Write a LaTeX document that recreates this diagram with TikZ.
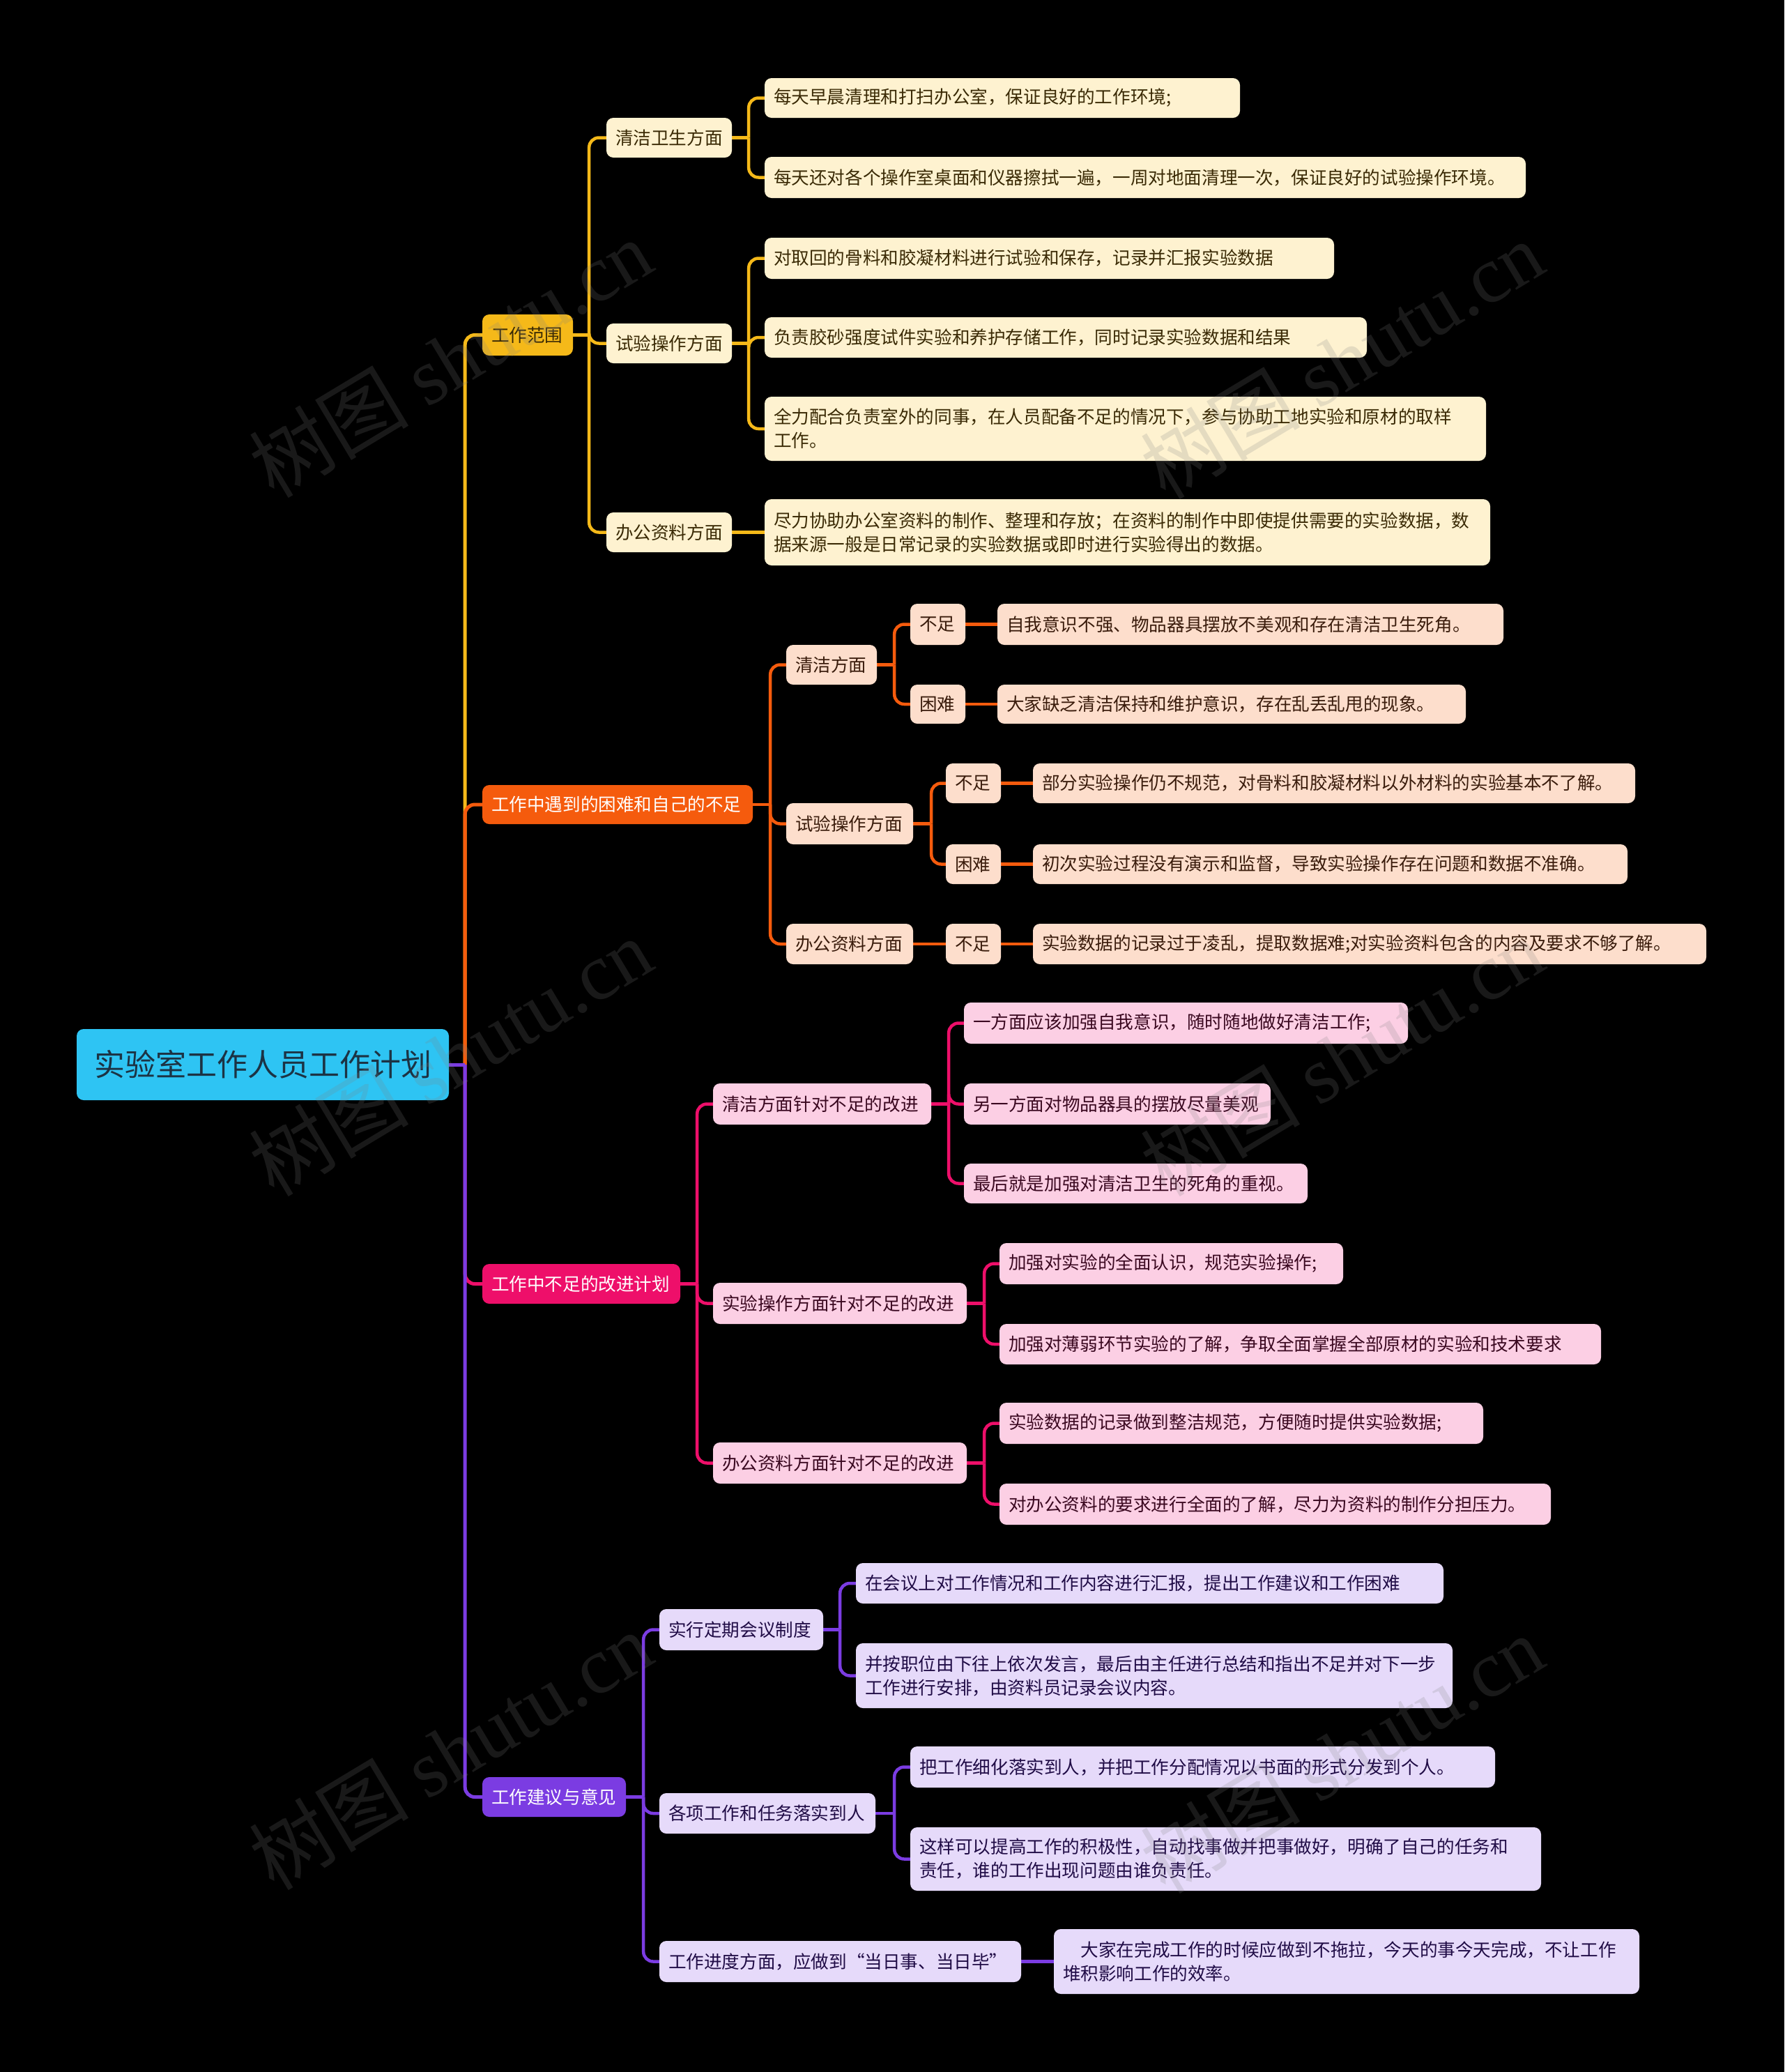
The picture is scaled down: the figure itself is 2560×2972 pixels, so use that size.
\documentclass[tikz,border=0pt]{standalone}
\usepackage{fontspec}
\setmainfont{Noto Sans CJK SC}
\newfontfamily\wmlat{Liberation Serif}
\pgfdeclarelayer{bg}
\pgfsetlayers{bg,main}
\definecolor{cRoot}{HTML}{2EC4F3}
\definecolor{cRootT}{HTML}{1C3344}
\definecolor{cY}{HTML}{F5B919}
\definecolor{cYT}{HTML}{3A2A05}
\definecolor{cYL}{HTML}{FEF2D0}
\definecolor{cO}{HTML}{F55B0D}
\definecolor{cOL}{HTML}{FDDECC}
\definecolor{cOT}{HTML}{3A1C0C}
\definecolor{cP}{HTML}{EE0F6A}
\definecolor{cPL}{HTML}{FCCFE4}
\definecolor{cPT}{HTML}{3A0820}
\definecolor{cV}{HTML}{7B3CE2}
\definecolor{cVL}{HTML}{E6DAFA}
\definecolor{cVT}{HTML}{200C46}
\newcommand\mmnode[7]{%
  \pgfmathsetmacro\mmtw{#5-#3-26}%
  \pgfmathsetmacro\mmh{#6-#4}%
  \pgfmathsetmacro\mmcx{(#3+#5)/2}%
  \pgfmathsetmacro\mmcy{-(#4+#6)/2}%
  \node[#2, text width=\mmtw pt, minimum height=\mmh pt] (#1) at (\mmcx,\mmcy) {#7};%
}
\tikzset{
  box/.style={rounded corners=10pt, inner xsep=13pt, inner ysep=0pt, align=left, font=\fontsize{25.6}{34}\selectfont},
  Ybox/.style={box, fill=cYL, text=cYT},
  Obox/.style={box, fill=cOL, text=cOT},
  Pbox/.style={box, fill=cPL, text=cPT},
  Vbox/.style={box, fill=cVL, text=cVT},
  ln/.style={line width=4.5pt, rounded corners=14pt},
  lnY/.style={ln, draw=cY},
  lnO/.style={ln, draw=cO},
  lnP/.style={ln, draw=cP},
  lnV/.style={ln, draw=cV},
  wm/.style={font=\fontsize{115}{115}\selectfont, text=gray, text opacity=0.2, rotate=31, inner sep=0pt},
}
\begin{document}
\begin{tikzpicture}[x=1pt,y=1pt]
\begin{pgfonlayer}{bg}
\fill[black] (0,0) rectangle (2560,-2972);
\end{pgfonlayer}
\useasboundingbox (0,0) rectangle (2560,-2972);

% root and branches
\mmnode{root}{box, fill=cRoot, text=cRootT, align=center, font=\fontsize{44}{50}\selectfont}{110}{1476}{644}{1578}{实验室工作人员工作计划}
\mmnode{b1}{box, fill=cY, text=cYT}{692}{451}{822}{510}{工作范围}
\mmnode{b2}{box, fill=cO, text=white}{692}{1126}{1080}{1182}{工作中遇到的困难和自己的不足}
\mmnode{b3}{box, fill=cP, text=white}{692}{1813}{976}{1870}{工作中不足的改进计划}
\mmnode{b4}{box, fill=cV, text=white}{692}{2549}{898}{2606}{工作建议与意见}

% yellow branch
\mmnode{y1}{Ybox}{870}{169}{1050}{226}{清洁卫生方面}
\mmnode{y2}{Ybox}{870}{464}{1050}{521}{试验操作方面}
\mmnode{y3}{Ybox}{870}{735}{1050}{792}{办公资料方面}
\mmnode{y11}{Ybox}{1097}{112}{1779}{169}{每天早晨清理和打扫办公室，保证良好的工作环境;}
\mmnode{y12}{Ybox}{1097}{225}{2189}{284}{每天还对各个操作室桌面和仪器擦拭一遍，一周对地面清理一次，保证良好的试验操作环境。}
\mmnode{y21}{Ybox}{1097}{341}{1914}{400}{对取回的骨料和胶凝材料进行试验和保存，记录并汇报实验数据}
\mmnode{y22}{Ybox}{1097}{455}{1961}{513}{负责胶砂强度试件实验和养护存储工作，同时记录实验数据和结果}
\mmnode{y23}{Ybox}{1097}{569}{2132}{661}{全力配合负责室外的同事，在人员配备不足的情况下，参与协助工地实验和原材的取样\\工作。}
\mmnode{y31}{Ybox}{1097}{716}{2138}{811}{尽力协助办公室资料的制作、整理和存放；在资料的制作中即使提供需要的实验数据，数\\据来源一般是日常记录的实验数据或即时进行实验得出的数据。}

% orange branch
\mmnode{o1}{Obox}{1128}{925}{1258}{982}{清洁方面}
\mmnode{o2}{Obox}{1128}{1152}{1310}{1211}{试验操作方面}
\mmnode{o3}{Obox}{1128}{1325}{1310}{1383}{办公资料方面}
\mmnode{o11}{Obox}{1306}{866}{1385}{925}{不足}
\mmnode{o12}{Obox}{1306}{982}{1385}{1038}{困难}
\mmnode{o21}{Obox}{1357}{1095}{1436}{1152}{不足}
\mmnode{o22}{Obox}{1357}{1211}{1436}{1268}{困难}
\mmnode{o31}{Obox}{1357}{1325}{1436}{1383}{不足}
\mmnode{o111}{Obox}{1431}{866}{2157}{925}{自我意识不强、物品器具摆放不美观和存在清洁卫生死角。}
\mmnode{o121}{Obox}{1431}{982}{2103}{1038}{大家缺乏清洁保持和维护意识，存在乱丢乱甩的现象。}
\mmnode{o211}{Obox}{1482}{1095}{2346}{1152}{部分实验操作仍不规范，对骨料和胶凝材料以外材料的实验基本不了解。}
\mmnode{o221}{Obox}{1482}{1211}{2335}{1268}{初次实验过程没有演示和监督，导致实验操作存在问题和数据不准确。}
\mmnode{o311}{Obox}{1482}{1325}{2448}{1383}{实验数据的记录过于凌乱，提取数据难;对实验资料包含的内容及要求不够了解。}

% pink branch
\mmnode{p1}{Pbox}{1023}{1554}{1336}{1613}{清洁方面针对不足的改进}
\mmnode{p2}{Pbox}{1023}{1840}{1387}{1899}{实验操作方面针对不足的改进}
\mmnode{p3}{Pbox}{1023}{2069}{1387}{2128}{办公资料方面针对不足的改进}
\mmnode{p11}{Pbox}{1383}{1438}{2020}{1497}{一方面应该加强自我意识，随时随地做好清洁工作;}
\mmnode{p12}{Pbox}{1383}{1554}{1823}{1613}{另一方面对物品器具的摆放尽量美观}
\mmnode{p13}{Pbox}{1383}{1669}{1876}{1726}{最后就是加强对清洁卫生的死角的重视。}
\mmnode{p21}{Pbox}{1434}{1783}{1927}{1842}{加强对实验的全面认识，规范实验操作;}
\mmnode{p22}{Pbox}{1434}{1899}{2297}{1957}{加强对薄弱环节实验的了解，争取全面掌握全部原材的实验和技术要求}
\mmnode{p31}{Pbox}{1434}{2012}{2128}{2071}{实验数据的记录做到整洁规范，方便随时提供实验数据;}
\mmnode{p32}{Pbox}{1434}{2128}{2225}{2187}{对办公资料的要求进行全面的了解，尽力为资料的制作分担压力。}

% purple branch
\mmnode{v1}{Vbox}{946}{2308}{1181}{2367}{实行定期会议制度}
\mmnode{v2}{Vbox}{946}{2572}{1256}{2630}{各项工作和任务落实到人}
\mmnode{v3}{Vbox}{946}{2784}{1465}{2843}{工作进度方面，应做到“当日事、当日毕”}
\mmnode{v11}{Vbox}{1228}{2242}{2071}{2300}{在会议上对工作情况和工作内容进行汇报，提出工作建议和工作困难}
\mmnode{v12}{Vbox}{1228}{2357}{2084}{2450}{并按职位由下往上依次发言，最后由主任进行总结和指出不足并对下一步\\工作进行安排，由资料员记录会议内容。}
\mmnode{v21}{Vbox}{1306}{2505}{2145}{2564}{把工作细化落实到人，并把工作分配情况以书面的形式分发到个人。}
\mmnode{v22}{Vbox}{1306}{2621}{2211}{2712}{这样可以提高工作的积极性，自动找事做并把事做好，明确了自己的任务和\\责任，谁的工作出现问题由谁负责任。}
\mmnode{v31}{Vbox}{1512}{2767}{2352}{2860}{　大家在完成工作的时候应做到不拖拉，今天的事今天完成，不让工作\\堆积影响工作的效率。}

% junctions
\path (root.east) ++(23,0) coordinate (jr);
\path (b1.east) ++(23,0) coordinate (jb1);
\path (b2.east) ++(25,0) coordinate (jb2);
\path (b3.east) ++(24,0) coordinate (jb3);
\path (b4.east) ++(25,0) coordinate (jb4);
\path (y1.east) ++(24,0) coordinate (jy1);
\path (y2.east) ++(24,0) coordinate (jy2);
\path (o1.east) ++(25,0) coordinate (jo1);
\path (o2.east) ++(26,0) coordinate (jo2);
\path (p1.east) ++(25,0) coordinate (jp1);
\path (p2.east) ++(25,0) coordinate (jp2);
\path (p3.east) ++(25,0) coordinate (jp3);
\path (v1.east) ++(24,0) coordinate (jv1);
\path (v2.east) ++(27,0) coordinate (jv2);

\begin{pgfonlayer}{bg}
% yellow
\draw[lnY, line width=5pt] (root.east) -- (jr);
\draw[lnY, line width=5pt] (jr) |- (b1.west);
\draw[lnY] (b1.east) -- (jb1);
\draw[lnY] (jb1) |- (y1.west);
\draw[lnY] (jb1) |- (y2.west);
\draw[lnY] (jb1) |- (y3.west);
\draw[lnY] (y1.east) -- (jy1);
\draw[lnY] (jy1) |- (y11.west);
\draw[lnY] (jy1) |- (y12.west);
\draw[lnY] (y2.east) -- (jy2);
\draw[lnY] (jy2) |- (y21.west);
\draw[lnY] (jy2) |- (y22.west);
\draw[lnY] (jy2) |- (y23.west);
\draw[lnY] (y3.east) -- (y31.west);
% orange
\draw[lnO, line width=5pt] (jr) |- (b2.west);
\draw[lnO] (b2.east) -- (jb2);
\draw[lnO] (jb2) |- (o1.west);
\draw[lnO] (jb2) |- (o2.west);
\draw[lnO] (jb2) |- (o3.west);
\draw[lnO] (o1.east) -- (jo1);
\draw[lnO] (jo1) |- (o11.west);
\draw[lnO] (jo1) |- (o12.west);
\draw[lnO] (o2.east) -- (jo2);
\draw[lnO] (jo2) |- (o21.west);
\draw[lnO] (jo2) |- (o22.west);
\draw[lnO] (o3.east) -- (o31.west);
\draw[lnO] (o11.east) -- (o111.west);
\draw[lnO] (o12.east) -- (o121.west);
\draw[lnO] (o21.east) -- (o211.west);
\draw[lnO] (o22.east) -- (o221.west);
\draw[lnO] (o31.east) -- (o311.west);
% pink
\draw[lnP, line width=5pt] (jr) |- (b3.west);
\draw[lnP] (b3.east) -- (jb3);
\draw[lnP] (jb3) |- (p1.west);
\draw[lnP] (jb3) |- (p2.west);
\draw[lnP] (jb3) |- (p3.west);
\draw[lnP] (p1.east) -- (jp1);
\draw[lnP] (jp1) |- (p11.west);
\draw[lnP] (jp1) |- (p12.west);
\draw[lnP] (jp1) |- (p13.west);
\draw[lnP] (p2.east) -- (jp2);
\draw[lnP] (jp2) |- (p21.west);
\draw[lnP] (jp2) |- (p22.west);
\draw[lnP] (p3.east) -- (jp3);
\draw[lnP] (jp3) |- (p31.west);
\draw[lnP] (jp3) |- (p32.west);
% purple
\draw[lnV, line width=5pt] (root.east) -- (jr);
\draw[lnV, line width=5pt] (jr) |- (b4.west);
\draw[lnV] (b4.east) -- (jb4);
\draw[lnV] (jb4) |- (v1.west);
\draw[lnV] (jb4) |- (v2.west);
\draw[lnV] (jb4) |- (v3.west);
\draw[lnV] (v1.east) -- (jv1);
\draw[lnV] (jv1) |- (v11.west);
\draw[lnV] (jv1) |- (v12.west);
\draw[lnV] (v2.east) -- (jv2);
\draw[lnV] (jv2) |- (v21.west);
\draw[lnV] (jv2) |- (v22.west);
\draw[lnV] (v3.east) -- (v31.west);
\end{pgfonlayer}

% watermarks
\node[wm] (w1) at (646,-514) {树图 {\wmlat shutu.cn}};
\node[wm] (w2) at (1925,-516) {树图 {\wmlat shutu.cn}};
\node[wm] (w3) at (646,-1516) {树图 {\wmlat shutu.cn}};
\node[wm] (w4) at (1925,-1516) {树图 {\wmlat shutu.cn}};
\node[wm] (w5) at (646,-2511) {树图 {\wmlat shutu.cn}};
\node[wm] (w6) at (1925,-2516) {树图 {\wmlat shutu.cn}};
\end{tikzpicture}
\end{document}
